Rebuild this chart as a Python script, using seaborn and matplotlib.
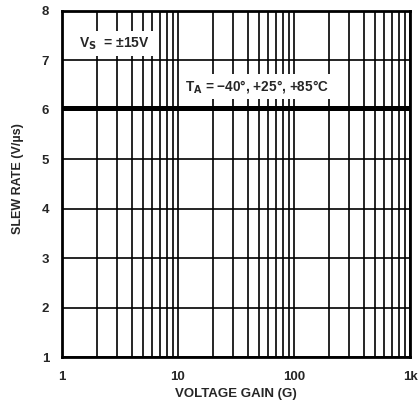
import numpy as np
import pandas as pd
import matplotlib
matplotlib.use("Agg")
import matplotlib.pyplot as plt
import matplotlib.ticker as mticker
import seaborn as sns

# datos
ganancia = [1, 10, 100, 1000]
slew_rate = [6.04, 6.04, 6.04, 6.04]
ticks_x = [1, 10, 100, 1000]
etiquetas_x = ["1", "10", "100", "1k"]
ticks_y = [1, 2, 3, 4, 5, 6, 7, 8]

df = pd.DataFrame({"ganancia": ganancia, "slew": slew_rate})

sns.set_style("white")
plt.rcParams['font.family'] = ['Liberation Sans', 'DejaVu Sans']
plt.rcParams['font.weight'] = 'bold'

fig = plt.figure(figsize=(4.18, 4.04), dpi=100)
ax = fig.add_axes([0.148, 0.116, 0.833, 0.857])

sns.lineplot(data=df, x="ganancia", y="slew", color="black", linewidth=3.6, ax=ax, zorder=3)

ax.set_xscale("log")
ax.set_xlim(1, 1000)
ax.set_ylim(1, 8)
ax.set_xticks(ticks_x)
ax.set_xticklabels(etiquetas_x)
ax.set_yticks(ticks_y)
ax.xaxis.set_minor_locator(mticker.LogLocator(base=10, subs=np.arange(2, 10)))
ax.xaxis.set_minor_formatter(mticker.NullFormatter())

ax.grid(True, which="both", axis="x", color="black", linewidth=1.2)
ax.grid(True, which="major", axis="y", color="black", linewidth=1.2)
ax.tick_params(length=0, which="both", labelsize=9.5)
ax.tick_params(axis="x", pad=10)
ax.tick_params(axis="y", pad=9)
for s in ax.spines.values():
    s.set_linewidth(2)
    s.set_color("black")

ax.set_xlabel("VOLTAGE GAIN (G)", fontsize=9.5, fontweight="bold")
ax.xaxis.set_label_coords(0.5, -0.088)
ax.set_ylabel("SLEW RATE (V/\u00b5s)", fontsize=9, fontweight="bold")
ax.yaxis.set_label_coords(-0.108, 0.515)

caja = dict(facecolor="white", edgecolor="none", pad=3)
ax.text(0.05, 0.905, "V$_\\mathbf{S}$  = \u00b115V", transform=ax.transAxes, fontsize=10,
        fontweight="bold", va="center", ha="left", bbox=caja, zorder=4)
ax.text(0.355, 0.782, "T$_\\mathbf{A}$ = \u221240\u00b0, +25\u00b0, +85\u00b0C", transform=ax.transAxes,
        fontsize=9.8, fontweight="bold", va="center", ha="left", bbox=caja, zorder=4)

plt.savefig("out.png", dpi=100)
plt.close()
